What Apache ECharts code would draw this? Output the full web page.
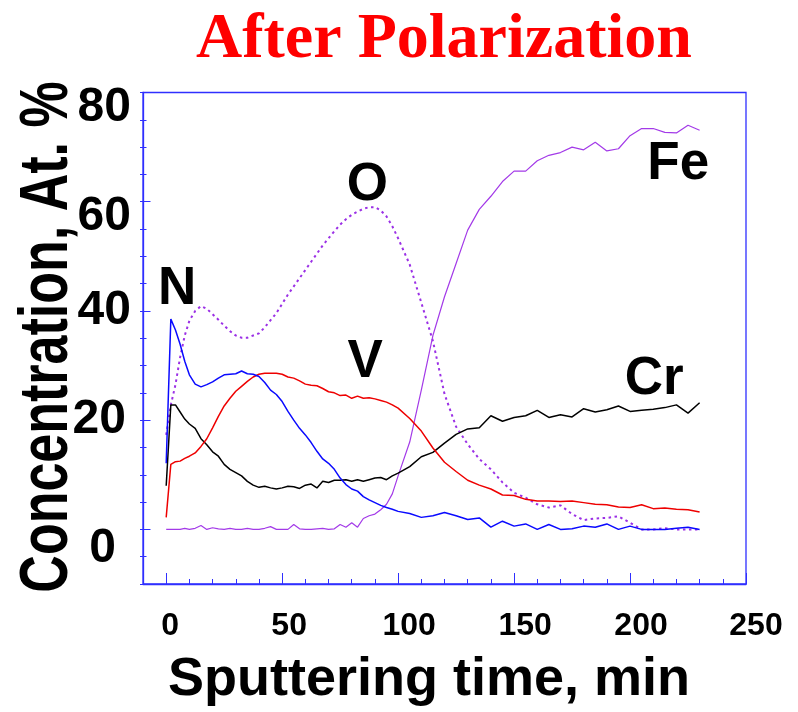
<!DOCTYPE html>
<html>
<head>
<meta charset="utf-8">
<title>After Polarization</title>
<script src="https://cdn.jsdelivr.net/npm/echarts@6/dist/echarts.min.js"></script>
<style>
  html, body { margin: 0; padding: 0; background: #ffffff; }
  #chart { width: 798px; height: 712px; }
</style>
</head>
<body>
<div id="chart"></div>
<script>
// Sputtering time (min) for each depth-profile sample
const timeMin = [0, 2, 4, 6, 8, 10,
  12.5, 15, 17.5, 20, 22.5, 25, 27.5, 30, 32.5, 35, 37.5, 40, 42.5, 45, 47.5, 50,
  52.5, 55, 57.5, 60, 62.5, 65, 67.5, 70, 72.5, 75, 77.5, 80, 82.5, 85, 87.5, 90,
  92.5, 95, 97.5, 100,
  105, 110, 115, 120, 125, 130, 135, 140, 145, 150, 155, 160, 165, 170, 175, 180,
  185, 190, 195, 200, 205, 210, 215, 220, 225, 230];

// Concentrations, at.%
const nitrogen = [12.1, 38.5, 36.5, 33.9, 30.8, 28.3,
  26.6, 26.1, 26.5, 27.0, 27.7, 28.3, 28.4, 28.5, 29.0, 28.5, 28.4, 28.0, 26.9, 25.5, 24.7, 23.4,
  21.6, 20.0, 18.5, 17.3, 15.9, 14.3, 12.9, 12.1, 11.0, 9.4, 8.2, 7.4, 7.0, 6.0, 5.4, 4.9,
  4.4, 4.0, 3.7, 3.3,
  2.9, 2.2, 2.5, 3.1, 2.5, 1.8, 2.1, 0.4, 1.5, 0.6, 1.0, 0, 0.9, 0, 0.1, 0.6,
  0.4, 1.0, 0, 0.6, 0, 0, 0, 0.2, 0.4, 0];

const vanadium = [2.2, 11.9, 12.4, 12.5, 13.0, 13.4,
  14.0, 15.2, 16.6, 18.6, 20.7, 22.6, 24.0, 25.3, 26.2, 27.1, 27.9, 28.4, 28.6, 28.6, 28.6, 28.4,
  27.9, 27.7, 27.2, 26.6, 26.4, 26.3, 25.8, 25.2, 25.0, 24.5, 24.6, 24.0, 24.4, 24.0, 24.1, 23.9,
  23.6, 23.3, 22.8, 22.2,
  20.3, 18.0, 14.9, 12.3, 10.6, 9.0, 8.1, 7.4, 6.3, 6.2, 5.5, 5.2, 5.2, 5.1, 5.2, 4.9,
  4.6, 4.5, 4.1, 4.0, 4.5, 3.8, 3.9, 3.7, 3.6, 3.2];

const chromium = [8.0, 22.8, 22.8, 21.5, 20.2, 19.3,
  18.5, 16.6, 15.5, 14.2, 13.4, 11.9, 11.0, 10.4, 9.8, 8.8, 8.1, 7.7, 7.9, 7.6, 7.4, 7.6,
  7.9, 7.8, 7.5, 8.1, 8.3, 7.6, 8.8, 8.6, 9.0, 9.0, 9.1, 8.8, 9.1, 8.8, 9.1, 9.4,
  9.5, 9.1, 9.8, 10.3,
  11.5, 13.3, 14.1, 15.8, 17.4, 18.4, 18.6, 20.8, 19.8, 20.5, 20.8, 21.8, 20.5, 21.0, 20.6, 22.1,
  21.5, 21.9, 22.6, 21.6, 21.8, 22.0, 22.3, 22.8, 21.3, 23.2];

const iron = [0, 0, 0, 0, 0.2, 0,
  0.2, 0.7, 0, 0.3, 0.1, 0, 0.2, 0, 0, 0.2, 0, 0, 0.2, 0.5, 0, 0,
  0, 0.9, 0.1, 0, 0, 0.1, 0.2, 0, 0.1, 0.9, 0.4, 1.2, 0.4, 2.0, 2.5, 2.8,
  3.6, 4.6, 6.5, 9.8,
  16.0, 25.5, 35.5, 42.6, 48.7, 54.8, 58.6, 61.0, 63.7, 65.6, 65.6, 67.5, 68.5, 69.0, 70.0, 69.5,
  70.9, 69.3, 69.7, 72.1, 73.4, 73.4, 72.7, 72.6, 74.0, 73.1];

const oxygen = [17.3, 22.8, 26.5, 31.5, 35.5, 38.2,
  40.0, 40.9, 40.4, 39.4, 38.4, 37.3, 36.3, 35.5, 35.1, 35.1, 35.5, 35.9, 37.0, 38.3, 39.6, 41.3,
  43.0, 44.5, 46.0, 47.5, 49.0, 50.5, 52.0, 53.3, 54.6, 55.8, 56.8, 57.6, 58.2, 58.7, 59.0, 59.0,
  58.4, 57.3, 55.5, 53.3,
  48.5, 41.5, 34.5, 24.8, 18.8, 15.6, 12.9, 11.0, 8.6, 6.7, 5.8, 4.6, 4.0, 4.4, 2.8, 1.7,
  2.0, 2.1, 2.4, 1.2, 0, 0, 0.2, 0, 0, 0];

// Element labels placed at [time, concentration]
const elementLabels = [
  { name: 'N',  at: [4.7, 43.9] },
  { name: 'O',  at: [86.7, 63.0] },
  { name: 'V',  at: [85.8, 30.6] },
  { name: 'Fe', at: [220.8, 66.9] },
  { name: 'Cr', at: [210.4, 27.5] }
];

const xMajorTicks = [0, 50, 100, 150, 200, 250];
const yMajorTicks = [0, 20, 40, 60, 80];

// y tick numbers, grouped by how they sit beside their tick
const yLabelsHanging = [80, 60];
const yLabelsCentred = [40];
const yLabelsCentredInset = [20];
const yLabelsZero = [0];

const AXIS_BLUE = '#2f2fff';
const SANS = '"Liberation Sans", Arial, Helvetica, sans-serif';

const pairs = (vals) => timeMin.map((t, i) => [t, vals[i]]);

const xNudge = { 0: 8, 50: 14, 100: 22, 150: 22, 200: 22, 250: 20 };
const numFont = { fontFamily: SANS, fontWeight: 'bold', color: '#000' };
const xLabelRich = {};
Object.keys(xNudge).forEach(k => {
  xLabelRich['x' + k] = Object.assign({ fontSize: 32, padding: [0, 0, 0, xNudge[k]] }, numFont);
});

function labelMark(name) {
  const item = elementLabels.find(l => l.name === name);
  return {
    symbol: 'circle',
    symbolSize: 0,
    silent: true,
    label: {
      show: true,
      position: 'inside',
      formatter: item.name,
      fontFamily: SANS,
      fontWeight: 'bold',
      fontSize: 53,
      color: '#000000'
    },
    data: [{ coord: item.at, value: item.name }]
  };
}

function lineSeries(name, vals, color, width, type, label) {
  return {
    name: name,
    type: 'line',
    data: pairs(vals),
    showSymbol: false,
    symbol: 'none',
    xAxisIndex: 0,
    yAxisIndex: 0,
    lineStyle: { color: color, width: width, type: type },
    markPoint: labelMark(label),
    z: 3
  };
}

const hiddenLine = { show: false, onZero: false };

// an overlay y axis that only carries tick numbers
function yNumberAxis(values, margin, vAlign, lineHeight) {
  return {
    type: 'value',
    min: -10,
    max: 80,
    position: 'left',
    axisLine: hiddenLine,
    axisTick: { show: false },
    splitLine: { show: false },
    axisLabel: Object.assign({
      show: true,
      customValues: values,
      margin: margin,
      fontSize: 48,
      verticalAlign: vAlign,
      lineHeight: lineHeight
    }, numFont)
  };
}

const chart = echarts.init(document.getElementById('chart'), null, { renderer: 'canvas' });

chart.setOption({
  animation: false,
  backgroundColor: '#ffffff',
  title: {
    text: 'After Polarization',
    left: 191,
    top: 3,
    textStyle: {
      fontFamily: '"Liberation Serif", "Times New Roman", serif',
      fontWeight: 'bold',
      fontSize: 64,
      color: '#ff0000'
    }
  },
  graphic: [
    {
      type: 'text',
      x: 48,
      y: 337,
      rotation: Math.PI / 2,
      scaleY: 1.33,
      silent: true,
      style: {
        text: 'Concentration, At. %',
        fontFamily: SANS,
        fontWeight: 'bold',
        fontSize: 52,
        fill: '#000000',
        align: 'center',
        verticalAlign: 'middle'
      }
    }
  ],
  grid: {
    left: 143,
    right: 52,
    top: 92.5,
    bottom: 126,
    show: true,
    borderColor: AXIS_BLUE,
    borderWidth: 1.3,
    backgroundColor: 'transparent'
  },
  xAxis: [
    {
      type: 'value',
      min: -10,
      max: 250,
      interval: 10,
      position: 'bottom',
      axisLine: { show: true, onZero: false, lineStyle: { color: AXIS_BLUE, width: 1.3 } },
      axisTick: { show: true, inside: true, length: 5, lineStyle: { color: AXIS_BLUE, width: 1 } },
      splitLine: { show: false },
      axisLabel: {
        margin: 26,
        formatter: (v) => (v >= 0 && v % 50 === 0) ? '{x' + v + '|' + v + '}' : '',
        rich: xLabelRich
      },
      name: 'Sputtering time, min',
      nameLocation: 'middle',
      nameGap: 69,
      nameTextStyle: { fontFamily: SANS, fontWeight: 'bold', fontSize: 54, color: '#000', padding: [0, 31, 0, 0] }
    },
    {
      type: 'value',
      min: -10,
      max: 250,
      position: 'bottom',
      axisLine: hiddenLine,
      axisTick: { show: true, inside: true, length: 11, customValues: xMajorTicks, lineStyle: { color: AXIS_BLUE, width: 1 } },
      axisLabel: { show: false },
      splitLine: { show: false }
    }
  ],
  yAxis: [
    {
      type: 'value',
      min: -10,
      max: 80,
      interval: 5,
      position: 'left',
      axisLine: { show: true, onZero: false, lineStyle: { color: AXIS_BLUE, width: 1.3 } },
      axisTick: { show: true, inside: false, length: 3, lineStyle: { color: AXIS_BLUE, width: 1 } },
      splitLine: { show: false },
      axisLabel: { show: false }
    },
    {
      type: 'value',
      min: -10,
      max: 80,
      interval: 5,
      position: 'left',
      axisLine: hiddenLine,
      axisTick: { show: true, inside: true, length: 3.5, lineStyle: { color: AXIS_BLUE, width: 1 } },
      axisLabel: { show: false },
      splitLine: { show: false }
    },
    {
      type: 'value',
      min: -10,
      max: 80,
      position: 'left',
      axisLine: hiddenLine,
      axisTick: { show: true, inside: true, length: 7.5, customValues: yMajorTicks, lineStyle: { color: AXIS_BLUE, width: 1 } },
      axisLabel: { show: false },
      splitLine: { show: false }
    },
    yNumberAxis(yLabelsHanging, 12, 'top', 30),
    yNumberAxis(yLabelsCentred, 12, 'middle', 48),
    yNumberAxis(yLabelsCentredInset, 17, 'middle', 48),
    yNumberAxis(yLabelsZero, 27, 'top', 38)
  ],
  series: [
    lineSeries('O', oxygen, '#9b30e6', 2, [2.5, 3.5], 'O'),
    lineSeries('Fe', iron, '#a33ae8', 1.2, 'solid', 'Fe'),
    lineSeries('Cr', chromium, '#000000', 1.5, 'solid', 'Cr'),
    lineSeries('V', vanadium, '#ee0000', 1.5, 'solid', 'V'),
    lineSeries('N', nitrogen, '#0a0aff', 1.5, 'solid', 'N')
  ]
});
</script>
</body>
</html>
